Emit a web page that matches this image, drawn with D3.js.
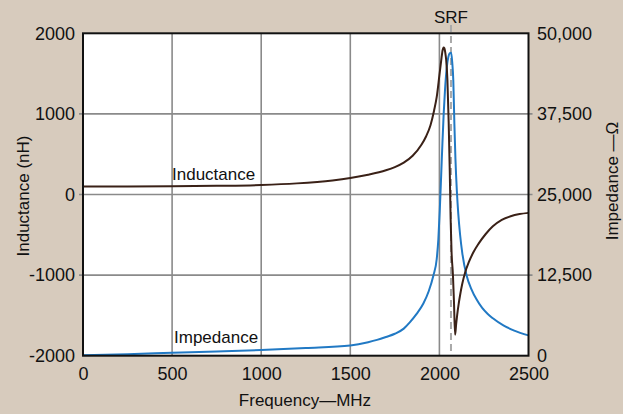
<!DOCTYPE html>
<html>
<head>
<meta charset="utf-8">
<script src="https://cdn.jsdelivr.net/npm/d3@7"></script>
<style>
  html, body { margin: 0; padding: 0; background: #d7cbbd; }
  svg { display: block; }
  text { font-family: "Liberation Sans", Arial, sans-serif; fill: #111; }
</style>
</head>
<body>
<svg id="chart" width="623" height="414"></svg>
<script>
// ---- Data ----
const xTicks = [0, 500, 1000, 1500, 2000, 2500];
const leftTicks = [-2000, -1000, 0, 1000, 2000];
const rightTicks = [0, 12500, 25000, 37500, 50000];
const rightTickLabels = ["0", "12,500", "25,000", "37,500", "50,000"];
const srfFreq = 2065;

// Inductance (nH) vs frequency (MHz)
const indFreq = [0, 250, 500, 750, 1000, 1200, 1400, 1500, 1600, 1700, 1750, 1800, 1850, 1900, 1925, 1950, 1970, 1985, 2000, 2010, 2018, 2023, 2028, 2033, 2038, 2045, 2052, 2058, 2063, 2068, 2076, 2082, 2088, 2094, 2100, 2108, 2116, 2128, 2144, 2165, 2190, 2220, 2260, 2300, 2350, 2400, 2450, 2500];
const indVal  = [100, 100, 102, 108, 118, 138, 175, 205, 245, 300, 340, 395, 480, 620, 720, 860, 1040, 1210, 1480, 1660, 1790, 1825, 1815, 1760, 1670, 1420, 900, 300, -300, -700, -1000, -1350, -1740, -1610, -1490, -1360, -1250, -1110, -970, -840, -720, -610, -490, -395, -315, -270, -243, -228];

// Impedance (ohm) vs frequency (MHz)
const impFreq = [0, 250, 500, 750, 1000, 1250, 1500, 1600, 1650, 1700, 1750, 1800, 1835, 1870, 1910, 1940, 1966, 1985, 1994, 2002, 2010, 2017, 2024, 2031, 2041, 2050, 2058, 2066, 2072, 2078, 2084, 2090, 2098, 2106, 2116, 2129, 2153, 2180, 2209, 2240, 2270, 2300, 2359, 2420, 2500];
const impVal  = [80, 240, 450, 650, 880, 1200, 1600, 2100, 2450, 2900, 3400, 4200, 5200, 6400, 8100, 10000, 12400, 15000, 18000, 22500, 28000, 33000, 37500, 41000, 44600, 46300, 46900, 47000, 45500, 42700, 36000, 30500, 25500, 22000, 18800, 15800, 12400, 10300, 8700, 7400, 6500, 5800, 4700, 3900, 3150];

// ---- Layout ----
const svg = d3.select("#chart");
const m = { left: 83, right: 528.5, top: 33.3, bottom: 355.7 };

const x = d3.scaleLinear().domain([0, 2500]).range([m.left, m.right]);
const yL = d3.scaleLinear().domain([-2000, 2000]).range([m.bottom, m.top]);
const yR = d3.scaleLinear().domain([0, 50000]).range([m.bottom, m.top]);

// plot background
svg.append("rect")
  .attr("x", m.left).attr("y", m.top)
  .attr("width", m.right - m.left).attr("height", m.bottom - m.top)
  .attr("fill", "#ffffff");

// grid lines
const grid = svg.append("g").attr("stroke", "#8a8a8a").attr("stroke-width", 1.6);
grid.selectAll("line.v").data(xTicks.filter(d => d > 0 && d < 2500)).join("line")
  .attr("x1", d => x(d)).attr("x2", d => x(d))
  .attr("y1", m.top).attr("y2", m.bottom);
grid.selectAll("line.h").data(leftTicks.filter(d => d > -2000 && d < 2000)).join("line")
  .attr("x1", m.left - 4).attr("x2", m.right + 4)
  .attr("y1", d => yL(d)).attr("y2", d => yL(d));

// SRF dashed line
svg.append("line")
  .attr("x1", x(srfFreq)).attr("x2", x(srfFreq))
  .attr("y1", 25).attr("y2", m.bottom)
  .attr("stroke", "#a9a9a9").attr("stroke-width", 2)
  .attr("stroke-dasharray", "7,4");

// curves
const lineInd = d3.line().x(d => x(d[0])).y(d => yL(d[1])).curve(d3.curveMonotoneX);
const lineImp = d3.line().x(d => x(d[0])).y(d => yR(d[1])).curve(d3.curveMonotoneX);

svg.append("path")
  .datum(impFreq.map((f, i) => [f, impVal[i]]))
  .attr("d", lineImp)
  .attr("fill", "none").attr("stroke", "#2179c4").attr("stroke-width", 2);

svg.append("path")
  .datum(indFreq.map((f, i) => [f, indVal[i]]))
  .attr("d", lineInd)
  .attr("fill", "none").attr("stroke", "#3a2117").attr("stroke-width", 2);

// border
svg.append("rect")
  .attr("x", m.left).attr("y", m.top)
  .attr("width", m.right - m.left).attr("height", m.bottom - m.top)
  .attr("fill", "none").attr("stroke", "#111").attr("stroke-width", 2);

// axes (labels only, via d3 axis)
const fs = 18;
const axB = d3.axisBottom(x).tickValues(xTicks).tickSize(0).tickPadding(12).tickFormat(d => String(d));
const gB = svg.append("g").attr("transform", `translate(0,${m.bottom})`).call(axB);
const axL = d3.axisLeft(yL).tickValues(leftTicks).tickSize(0).tickPadding(8).tickFormat(d => String(d));
const gL = svg.append("g").attr("transform", `translate(${m.left},0)`).call(axL);
const axR = d3.axisRight(yR).tickValues(rightTicks).tickSize(0).tickPadding(8.5)
  .tickFormat((d, i) => rightTickLabels[i]);
const gR = svg.append("g").attr("transform", `translate(${m.right},0)`).call(axR);
[gB, gL, gR].forEach(g => {
  g.select(".domain").remove();
  g.selectAll("text").attr("font-size", fs).attr("font-family", '"Liberation Sans", Arial, sans-serif').attr("fill", "#111");
});

// titles
svg.append("text").attr("x", 305).attr("y", 406).attr("text-anchor", "middle")
  .attr("font-size", 17).text("Frequency\u2014MHz");
svg.append("text").attr("transform", "translate(29,196) rotate(-90)").attr("text-anchor", "middle")
  .attr("font-size", 17).text("Inductance (nH)");
svg.append("text").attr("transform", "translate(618,181) rotate(-90)").attr("text-anchor", "middle")
  .attr("font-size", 17).text("Impedance \u2014\u03A9");
svg.append("text").attr("x", x(srfFreq)).attr("y", 23).attr("text-anchor", "middle")
  .attr("font-size", 17).text("SRF");

// series labels
svg.append("text").attr("x", 172).attr("y", 180).attr("font-size", 17).text("Inductance");
svg.append("text").attr("x", 174).attr("y", 343).attr("font-size", 17).text("Impedance");
</script>
</body>
</html>
